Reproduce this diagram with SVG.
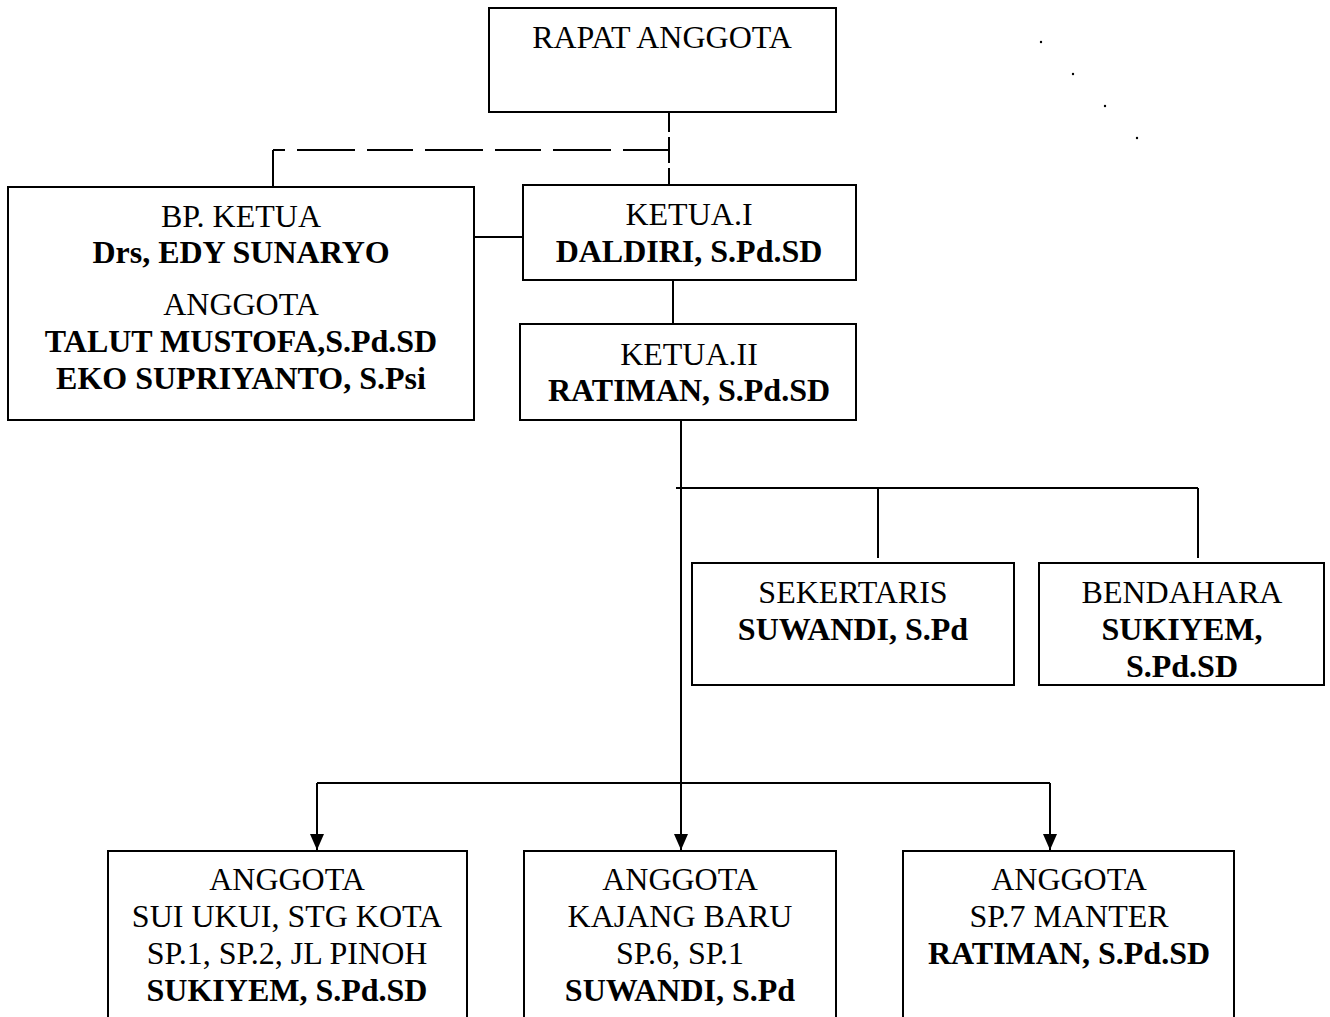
<svg xmlns="http://www.w3.org/2000/svg" width="1330" height="1017" viewBox="0 0 1330 1017">
<style>
  .box { fill: #ffffff; stroke: #000000; stroke-width: 2; }
  .ln { fill: none; stroke: #000000; stroke-width: 2; }
  .t { font-family: "Liberation Serif", "Times New Roman", serif; font-size: 32px; fill: #000000; text-anchor: middle; }
  .b { font-weight: bold; }
</style>
<defs>
  <marker id="arr" viewBox="0 0 16 14" refX="16" refY="7" markerWidth="16" markerHeight="14" markerUnits="userSpaceOnUse" orient="auto">
    <path d="M0,0 L16,7 L0,14 Z" fill="#000000"/>
  </marker>
</defs>
<rect width="1330" height="1017" fill="#ffffff"/>

<g id="connectors">
  <path class="ln" d="M669,112 V185" stroke-dasharray="20 5 26 5 17"/>
  <path class="ln" d="M669,150 H273" stroke-dasharray="46 12 58 12"/>
  <path class="ln" d="M273,150 V187"/>
  <path class="ln" d="M474,237 H523"/>
  <path class="ln" d="M673,280 V324"/>
  <path class="ln" d="M676,488 H1198"/>
  <path class="ln" d="M878,488 V558"/>
  <path class="ln" d="M1198,488 V558"/>
  <path class="ln" d="M681,420 V850" marker-end="url(#arr)"/>
  <path class="ln" d="M317,783 H1050"/>
  <path class="ln" d="M317,783 V850" marker-end="url(#arr)"/>
  <path class="ln" d="M1050,783 V850" marker-end="url(#arr)"/>
</g>

<g id="dots" fill="#000000">
  <circle cx="1041" cy="42" r="1.2"/>
  <circle cx="1073" cy="74" r="1.2"/>
  <circle cx="1105" cy="106" r="1.2"/>
  <circle cx="1137" cy="138" r="1.2"/>
</g>

<g id="rapat-anggota">
  <rect class="box" x="489" y="8" width="347" height="104"/>
  <text class="t" x="662" y="48">RAPAT ANGGOTA</text>
</g>

<g id="bp-ketua">
  <rect class="box" x="8" y="187" width="466" height="233"/>
  <text class="t" x="241" y="227">BP. KETUA</text>
  <text class="t b" x="241" y="263">Drs, EDY SUNARYO</text>
  <text class="t" x="241" y="315">ANGGOTA</text>
  <text class="t b" x="241" y="352">TALUT MUSTOFA,S.Pd.SD</text>
  <text class="t b" x="241" y="389">EKO SUPRIYANTO, S.Psi</text>
</g>

<g id="ketua-1">
  <rect class="box" x="523" y="185" width="333" height="95"/>
  <text class="t" x="689" y="225">KETUA.I</text>
  <text class="t b" x="689" y="262">DALDIRI, S.Pd.SD</text>
</g>

<g id="ketua-2">
  <rect class="box" x="520" y="324" width="336" height="96"/>
  <text class="t" x="689" y="365">KETUA.II</text>
  <text class="t b" x="689" y="401">RATIMAN, S.Pd.SD</text>
</g>

<g id="sekertaris">
  <rect class="box" x="692" y="563" width="322" height="122"/>
  <text class="t" x="853" y="603">SEKERTARIS</text>
  <text class="t b" x="853" y="640">SUWANDI, S.Pd</text>
</g>

<g id="bendahara">
  <rect class="box" x="1039" y="563" width="285" height="122"/>
  <text class="t" x="1182" y="603">BENDAHARA</text>
  <text class="t b" x="1182" y="640">SUKIYEM,</text>
  <text class="t b" x="1182" y="677">S.Pd.SD</text>
</g>

<g id="anggota-1">
  <rect class="box" x="108" y="851" width="359" height="180"/>
  <text class="t" x="287" y="890">ANGGOTA</text>
  <text class="t" x="287" y="927">SUI UKUI, STG KOTA</text>
  <text class="t" x="287" y="964">SP.1, SP.2, JL PINOH</text>
  <text class="t b" x="287" y="1001">SUKIYEM, S.Pd.SD</text>
</g>

<g id="anggota-2">
  <rect class="box" x="524" y="851" width="312" height="180"/>
  <text class="t" x="680" y="890">ANGGOTA</text>
  <text class="t" x="680" y="927">KAJANG BARU</text>
  <text class="t" x="680" y="964">SP.6, SP.1</text>
  <text class="t b" x="680" y="1001">SUWANDI, S.Pd</text>
</g>

<g id="anggota-3">
  <rect class="box" x="903" y="851" width="331" height="180"/>
  <text class="t" x="1069" y="890">ANGGOTA</text>
  <text class="t" x="1069" y="927">SP.7 MANTER</text>
  <text class="t b" x="1069" y="964">RATIMAN, S.Pd.SD</text>
</g>
</svg>
